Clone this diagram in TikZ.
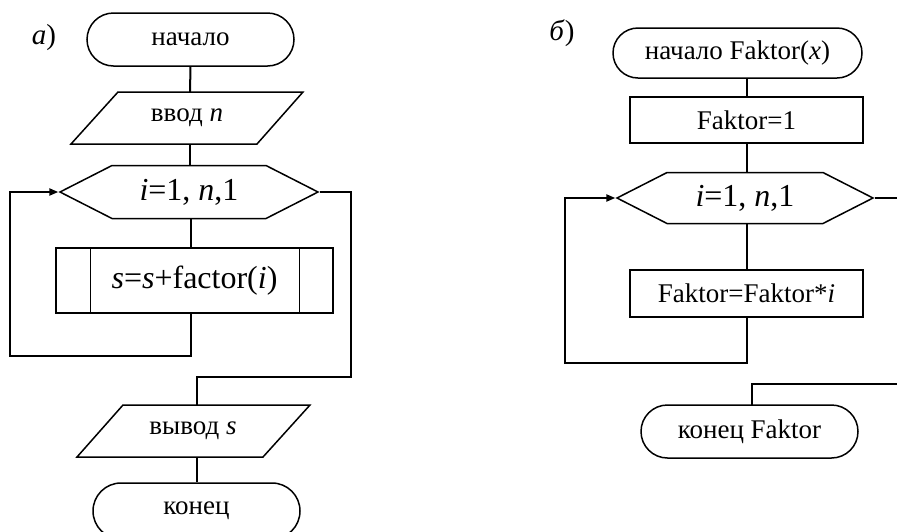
\documentclass[tikz,border=0pt]{standalone}
\usepackage{fontspec}
\setmainfont{Liberation Serif}
\usetikzlibrary{shapes.misc,shapes.geometric,shapes.symbols,arrows.meta,calc}
\begin{document}
\begin{tikzpicture}[x=1pt,y=-1pt,
  shp/.style={draw,line width=1.5pt,inner sep=0pt,font=\fontsize{27}{30}\selectfont},
  term/.style={shp,rounded rectangle},
  txt/.style={inner sep=0pt,font=\fontsize{27}{30}\selectfont},
  outline/.style={line width=1.5pt,line join=miter},
  loophex/.style={shp,signal,signal to=west and east,signal pointer angle=54,font=\fontsize{32}{36}\selectfont},
  procbox/.style={shp,rectangle},
  conn/.style={line width=2pt},
  arr/.style={conn,-{Triangle[length=9pt,width=7pt]}},
  lbl/.style={font=\fontsize{29}{32}\selectfont,inner sep=0pt}
]
\useasboundingbox (0,0) rectangle (897,531);
% ---------- a)
\node[lbl] (la) at (44,38) {\textit{а})};
\node[term,minimum width=207pt,minimum height=53pt] (st) at (190.5,39.5) {начало};
\node[txt] (inp) at (187,118) {ввод \textit{n}};
\draw[outline] (118,92) -- (303,92) -- (257,144) -- (71,144) -- cycle;
\node[loophex,minimum width=258pt,minimum height=53pt] (hx) at (189,192) {\textit{i}=1, \textit{n},1};
\node[procbox,minimum width=277pt,minimum height=65pt,font=\fontsize{32}{36}\selectfont] (pr) at (194.5,280.5) {\textit{s}=\textit{s}+factor(\textit{i})};
\draw[line width=1.3pt] ($(pr.north west)+(35,0)$) -- ($(pr.south west)+(35,0)$);
\draw[line width=1.3pt] ($(pr.north east)+(-34,0)$) -- ($(pr.south east)+(-34,0)$);
\node[txt] (out) at (193,431) {вывод \textit{s}};
\draw[outline] (123,405) -- (310,405) -- (263,457) -- (77,457) -- cycle;
\node[term,minimum width=207pt,minimum height=56pt] (en) at (196.5,511) {конец};
\draw[conn] (st.south) -- (190,92);
\draw[conn] (190,144) -- (hx.north -| 190,0);
\draw[conn] (191,218) -- (191,248);
\draw[arr] (191,313) -- (191,356) -- (10,356) -- (10,192) -- (hx.west);
\draw[conn] (hx.east) -- (351,192) -- (351,377) -- (197,377) -- (197,405);
\draw[conn] (197,457) -- (en.north -| 197,0);
% ---------- б)
\node[lbl] (lb) at (562,33) {\textit{б})};
\node[term,minimum width=249pt,minimum height=50pt] (st2) at (737.5,53) {начало Faktor(\textit{x})};
\node[procbox,minimum width=233pt,minimum height=46pt] (ini) at (746.5,120) {Faktor=1};
\node[loophex,minimum width=256pt,minimum height=51pt] (hx2) at (745,198) {\textit{i}=1, \textit{n},1};
\node[procbox,minimum width=233pt,minimum height=47pt] (bd) at (746.5,293.5) {Faktor=Faktor*\textit{i}};
\node[term,minimum width=217pt,minimum height=53pt] (en2) at (749.5,431.5) {конец Faktor};
\coordinate (rx) at (897,198);
\coordinate (ry) at (897,384);
\draw[conn] (746.5,78) -- (ini.north);
\draw[conn] (ini.south) -- (746.5,172);
\draw[conn] (746.5,223) -- (bd.north);
\draw[arr] (bd.south) -- (746.5,363) -- (565,363) -- (565,198) -- (hx2.west);
\draw[conn] (hx2.east) -- (rx);
\draw[conn] (ry) -- (752,384) -- (752,405);
\end{tikzpicture}
\end{document}
